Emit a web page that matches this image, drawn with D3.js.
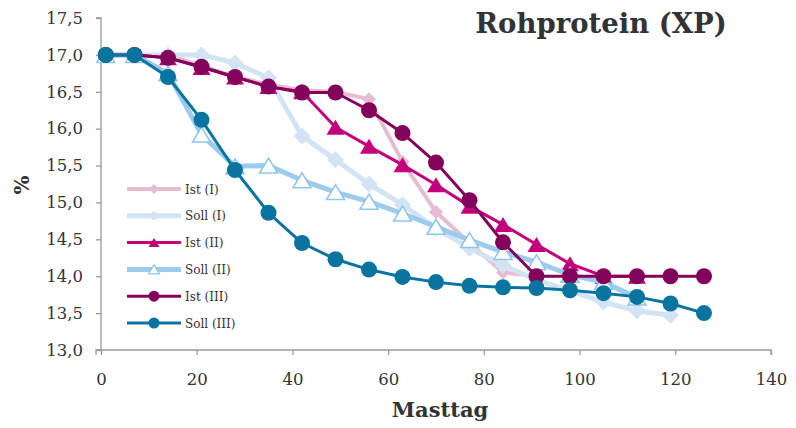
<!DOCTYPE html>
<html>
<head>
<meta charset="utf-8">
<script src="https://cdn.jsdelivr.net/npm/d3@7"></script>
<style>
  html, body { margin: 0; padding: 0; background: #fff; }
  svg { display: block; }
  text { font-family: "DejaVu Serif", serif; fill: #333; }
</style>
</head>
<body>
<svg id="chart" width="796" height="428"></svg>
<script>
// Feeding days (Masttag)
const days = [1, 7, 14, 21, 28, 35, 42, 49, 56, 63, 70, 77, 84, 91, 98, 105, 112, 119, 126];

// Crude protein content (%) per feeding day
const istI    = [17.0, 17.0, 17.0, 16.85, 16.70, 16.60, 16.52, 16.50, 16.40, 15.55, 14.87, 14.45, 14.05, 14.0];
const sollI   = [17.0, 17.0, 17.0, 17.0, 16.89, 16.69, 15.90, 15.58, 15.25, 14.97, 14.65, 14.38, 14.15, 13.95, 13.80, 13.65, 13.53, 13.47];
const istII   = [17.0, 17.0, 16.96, 16.83, 16.70, 16.57, 16.50, 16.02, 15.76, 15.51, 15.24, 14.95, 14.70, 14.43, 14.17, 14.0, 14.0];
const sollII  = [17.0, 17.0, 16.75, 15.92, 15.49, 15.50, 15.30, 15.14, 15.01, 14.85, 14.67, 14.49, 14.33, 14.19, 14.02, 13.92, 13.71];
const istIII  = [17.0, 17.0, 16.96, 16.84, 16.70, 16.57, 16.49, 16.49, 16.25, 15.94, 15.54, 15.03, 14.46, 14.0, 14.0, 14.0, 14.0, 14.0, 14.0];
const sollIII = [17.0, 17.0, 16.70, 16.12, 15.44, 14.86, 14.45, 14.23, 14.09, 13.99, 13.92, 13.87, 13.85, 13.84, 13.81, 13.77, 13.72, 13.63, 13.50];

const seriesNames = ["Ist (I)", "Soll (I)", "Ist (II)", "Soll (II)", "Ist (III)", "Soll (III)"];
const xTicks = [0, 20, 40, 60, 80, 100, 120, 140];
const yTicks = [13.0, 13.5, 14.0, 14.5, 15.0, 15.5, 16.0, 16.5, 17.0, 17.5];
const titleText = "Rohprotein (XP)";
const xTitle = "Masttag";
const yTitle = "%";

const svg = d3.select("#chart");

const x = d3.scaleLinear().domain([0, 140]).range([101, 771]);
const y = d3.scaleLinear().domain([13, 17.5]).range([350, 18]);

const fmt = v => d3.format(".1f")(v).replace(".", ",");

// Marker shapes
const diamond = r => `M0,${-r}L${r},0L0,${r}L${-r},0Z`;
const triangle = (w, h) => `M0,${-h / 2}L${w / 2},${h / 2}L${-w / 2},${h / 2}Z`;
const circle = r => d3.symbol(d3.symbolCircle, Math.PI * r * r)();

const styles = [
  { values: istI,    color: "#e7bcd2", width: 4,   marker: diamond(7),        legMarker: diamond(5),      fill: "#e7bcd2", stroke: "none" },
  { values: sollI,   color: "#d2e4f3", width: 5,   marker: diamond(8.5),      legMarker: diamond(5),      fill: "#d2e4f3", stroke: "none" },
  { values: istII,   color: "#c2007b", width: 3,   marker: triangle(18, 15),  legMarker: triangle(11, 9), fill: "#c2007b", stroke: "none" },
  { values: sollII,  color: "#9ccbee", width: 5,   marker: triangle(18, 15),  legMarker: triangle(11, 9), fill: "#ffffff", stroke: "#8ec5ec" },
  { values: istIII,  color: "#83005b", width: 3,   marker: circle(8),         legMarker: circle(5.5),     fill: "#83005b", stroke: "none" },
  { values: sollIII, color: "#0a74a0", width: 3,   marker: circle(8),         legMarker: circle(5.5),     fill: "#0a74a0", stroke: "none" }
];

// Axes
const axisColor = "#9a9a9a";
const yAxis = svg.append("g").attr("transform", `translate(${x(0)},0)`)
  .call(d3.axisLeft(y).tickValues(yTicks).tickFormat(fmt).tickSize(5).tickPadding(13));
const xAxis = svg.append("g").attr("transform", `translate(0,${y(13)})`)
  .call(d3.axisBottom(x).tickValues(xTicks).tickSize(5).tickPadding(18));
[yAxis, xAxis].forEach(g => {
  g.selectAll("path, line").attr("stroke", axisColor).attr("stroke-width", 1.3);
  g.selectAll("text").style("font-family", "'DejaVu Serif', serif").style("font-size", "16.5px").attr("fill", "#333");
});
yAxis.select(".domain").attr("d", `M-5,${y(17.5)}H0V${y(13)}H-5`);
xAxis.select(".domain").attr("d", `M${x(0) - 5},5V0H${x(140)}V5`);

// Series lines and markers
const line = d3.line().x((d, i) => x(days[i])).y(d => y(d));
styles.forEach(s => {
  const g = svg.append("g");
  g.append("path")
    .attr("d", line(s.values))
    .attr("fill", "none")
    .attr("stroke", s.color)
    .attr("stroke-width", s.width)
    .attr("stroke-linejoin", "round");
  g.selectAll("path.m").data(s.values).join("path")
    .attr("class", "m")
    .attr("d", s.marker)
    .attr("transform", (d, i) => `translate(${x(days[i])},${y(d)})`)
    .attr("fill", s.fill)
    .attr("stroke", s.stroke)
    .attr("stroke-width", 1.5);
});

// Legend
const leg = svg.append("g");
seriesNames.forEach((name, i) => {
  const s = styles[i];
  const ly = 189 + i * 26.8;
  leg.append("line").attr("x1", 127).attr("x2", 181).attr("y1", ly).attr("y2", ly)
    .attr("stroke", s.color).attr("stroke-width", s.width);
  leg.append("path").attr("d", s.legMarker).attr("transform", `translate(154,${ly})`)
    .attr("fill", s.fill).attr("stroke", s.stroke).attr("stroke-width", 1.2);
  leg.append("text").attr("x", 185).attr("y", ly + 4.5)
    .style("font-size", "12px").text(name);
});

// Titles
svg.append("text").attr("x", 601).attr("y", 33).attr("text-anchor", "middle")
  .style("font-size", "27.5px").style("font-weight", "bold").text(titleText);
svg.append("text").attr("x", 440).attr("y", 417).attr("text-anchor", "middle")
  .style("font-size", "21px").style("font-weight", "bold").text(xTitle);
svg.append("text").attr("transform", "translate(29,185) rotate(-90)").attr("text-anchor", "middle")
  .style("font-size", "20px").style("font-weight", "bold").text(yTitle);
</script>
</body>
</html>
